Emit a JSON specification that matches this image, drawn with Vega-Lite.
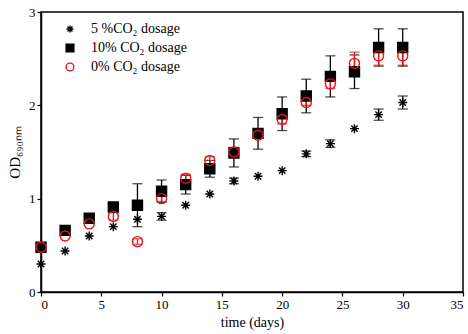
{
  "$schema": "https://vega.github.io/schema/vega-lite/v6.json",
  "width": 422,
  "height": 280,
  "autosize": {"type": "none"},
  "padding": {"left": 41, "top": 12, "right": 5, "bottom": 42},
  "config": {
    "view": {"stroke": "black", "strokeWidth": 1.5},
    "font": "Liberation Serif",
    "axis": {
      "grid": false,
      "domainColor": "black",
      "domainWidth": 1.5,
      "tickColor": "black",
      "tickWidth": 1.2,
      "tickSize": 4,
      "labelFont": "Liberation Serif",
      "labelFontSize": 13,
      "labelColor": "black",
      "titleFont": "Liberation Serif",
      "titleFontSize": 14,
      "titleFontWeight": "normal",
      "titleColor": "black"
    },
    "legend": {
      "labelFont": "Liberation Serif",
      "labelFontSize": 14,
      "labelColor": "black"
    }
  },
  "data": {
    "values": [
      {"series": "5 %CO₂ dosage", "day": 0, "od": 0.30},
      {"series": "5 %CO₂ dosage", "day": 2, "od": 0.44},
      {"series": "5 %CO₂ dosage", "day": 4, "od": 0.60},
      {"series": "5 %CO₂ dosage", "day": 6, "od": 0.70},
      {"series": "5 %CO₂ dosage", "day": 8, "od": 0.78},
      {"series": "5 %CO₂ dosage", "day": 10, "od": 0.81, "err": 0.04},
      {"series": "5 %CO₂ dosage", "day": 12, "od": 0.93},
      {"series": "5 %CO₂ dosage", "day": 14, "od": 1.05},
      {"series": "5 %CO₂ dosage", "day": 16, "od": 1.19, "err": 0.03},
      {"series": "5 %CO₂ dosage", "day": 18, "od": 1.24},
      {"series": "5 %CO₂ dosage", "day": 20, "od": 1.30},
      {"series": "5 %CO₂ dosage", "day": 22, "od": 1.48, "err": 0.03},
      {"series": "5 %CO₂ dosage", "day": 24, "od": 1.59, "err": 0.04},
      {"series": "5 %CO₂ dosage", "day": 26, "od": 1.75},
      {"series": "5 %CO₂ dosage", "day": 28, "od": 1.90, "err": 0.06},
      {"series": "5 %CO₂ dosage", "day": 30, "od": 2.03, "err": 0.07},
      {"series": "10% CO₂ dosage", "day": 0, "od": 0.48},
      {"series": "10% CO₂ dosage", "day": 2, "od": 0.66},
      {"series": "10% CO₂ dosage", "day": 4, "od": 0.79},
      {"series": "10% CO₂ dosage", "day": 6, "od": 0.91},
      {"series": "10% CO₂ dosage", "day": 8, "od": 0.93, "err": 0.23},
      {"series": "10% CO₂ dosage", "day": 10, "od": 1.08, "err": 0.12},
      {"series": "10% CO₂ dosage", "day": 12, "od": 1.15, "err": 0.10},
      {"series": "10% CO₂ dosage", "day": 14, "od": 1.32, "err": 0.09},
      {"series": "10% CO₂ dosage", "day": 16, "od": 1.49, "err": 0.15},
      {"series": "10% CO₂ dosage", "day": 18, "od": 1.70, "err": 0.17},
      {"series": "10% CO₂ dosage", "day": 20, "od": 1.91, "err": 0.18},
      {"series": "10% CO₂ dosage", "day": 22, "od": 2.10, "err": 0.18},
      {"series": "10% CO₂ dosage", "day": 24, "od": 2.31, "err": 0.22},
      {"series": "10% CO₂ dosage", "day": 26, "od": 2.36, "err": 0.18},
      {"series": "10% CO₂ dosage", "day": 28, "od": 2.62, "err": 0.20},
      {"series": "10% CO₂ dosage", "day": 30, "od": 2.62, "err": 0.20},
      {"series": "0% CO₂ dosage", "day": 0, "od": 0.48},
      {"series": "0% CO₂ dosage", "day": 2, "od": 0.60},
      {"series": "0% CO₂ dosage", "day": 4, "od": 0.73},
      {"series": "0% CO₂ dosage", "day": 6, "od": 0.81, "err": 0.04},
      {"series": "0% CO₂ dosage", "day": 8, "od": 0.54, "err": 0.03},
      {"series": "0% CO₂ dosage", "day": 10, "od": 1.00, "err": 0.03},
      {"series": "0% CO₂ dosage", "day": 12, "od": 1.22, "err": 0.04},
      {"series": "0% CO₂ dosage", "day": 14, "od": 1.41, "err": 0.04},
      {"series": "0% CO₂ dosage", "day": 16, "od": 1.50, "err": 0.05},
      {"series": "0% CO₂ dosage", "day": 18, "od": 1.68, "err": 0.02},
      {"series": "0% CO₂ dosage", "day": 20, "od": 1.85, "err": 0.05},
      {"series": "0% CO₂ dosage", "day": 22, "od": 2.03, "err": 0.03},
      {"series": "0% CO₂ dosage", "day": 24, "od": 2.23, "err": 0.05},
      {"series": "0% CO₂ dosage", "day": 26, "od": 2.45, "err": 0.12},
      {"series": "0% CO₂ dosage", "day": 28, "od": 2.53, "err": 0.10},
      {"series": "0% CO₂ dosage", "day": 30, "od": 2.53, "err": 0.10}
    ]
  },
  "encoding": {
    "x": {
      "field": "day", "type": "quantitative",
      "scale": {"domain": [0, 35], "nice": false, "zero": false},
      "axis": {"values": [0, 5, 10, 15, 20, 25, 30, 35], "format": "d", "title": "time (days)", "titlePadding": 4, "labelFont": "Liberation Serif", "titleFont": "Liberation Serif"}
    }
  },
  "layer": [
    {
      "transform": [{"filter": "datum.err > 0 && datum.series != '0% CO₂ dosage'"}],
      "mark": {"type": "errorbar", "color": "black", "ticks": {"size": 10, "thickness": 1.3, "color": "black"}, "thickness": 1.3},
      "encoding": {
        "y": {"field": "od", "type": "quantitative", "scale": {"domain": [0, 3], "nice": false}, "title": "OD₆₉₀ₙₘ"},
        "yError": {"field": "err"}
      }
    },
    {
      "transform": [{"filter": "datum.err > 0 && datum.series == '0% CO₂ dosage'"}],
      "mark": {"type": "errorbar", "color": "#e8141c", "ticks": {"size": 10, "thickness": 1.3, "color": "#e8141c"}, "thickness": 1.3},
      "encoding": {
        "y": {"field": "od", "type": "quantitative", "scale": {"domain": [0, 3], "nice": false}, "title": "OD₆₉₀ₙₘ"},
        "yError": {"field": "err"}
      }
    },
    {
      "mark": {"type": "point", "filled": false, "size": 100, "strokeWidth": 1.4, "opacity": 1},
      "encoding": {
        "y": {
          "field": "od", "type": "quantitative",
          "scale": {"domain": [0, 3], "nice": false},
          "axis": {"values": [0, 1, 2, 3], "format": "d", "title": "OD₆₉₀ₙₘ", "titleFontSize": 15, "titlePadding": 6, "labelFont": "Liberation Serif", "titleFont": "Liberation Serif"}
        },
        "color": {
          "field": "series", "type": "nominal",
          "scale": {"domain": ["5 %CO₂ dosage", "10% CO₂ dosage", "0% CO₂ dosage"], "range": ["black", "black", "#e8141c"]},
          "legend": {
            "title": null, "orient": "none", "legendX": 22, "legendY": 10,
            "symbolSize": 60, "labelOffset": 14, "rowPadding": 5, "symbolStrokeWidth": 1.4, "symbolOpacity": 1, "padding": 0,
            "labelFont": "Liberation Serif", "labelFontSize": 14
          }
        },
        "fill": {
          "field": "series", "type": "nominal",
          "scale": {"domain": ["5 %CO₂ dosage", "10% CO₂ dosage", "0% CO₂ dosage"], "range": ["black", "black", "transparent"]}
        },
        "shape": {
          "field": "series", "type": "nominal",
          "scale": {
            "domain": ["5 %CO₂ dosage", "10% CO₂ dosage", "0% CO₂ dosage"],
            "range": ["M0,-0.9L0,0.9M-0.9,0L0.9,0M-0.64,-0.64L0.64,0.64M-0.64,0.64L0.64,-0.64", "square", "circle"]
          }
        }
      }
    }
  ]
}
